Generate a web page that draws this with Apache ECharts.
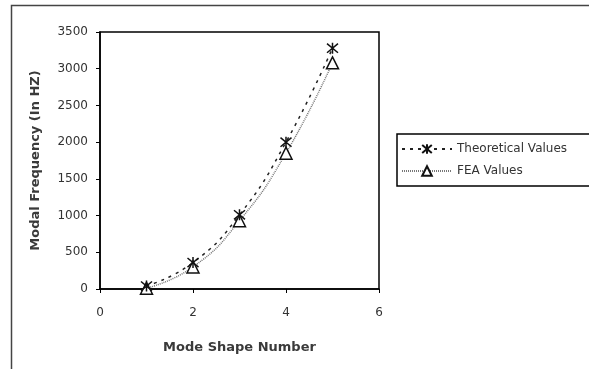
<!DOCTYPE html>
<html>
<head>
<meta charset="utf-8">
<script src="https://cdn.jsdelivr.net/npm/echarts@6/dist/echarts.min.js"></script>
<style>
  html, body { margin: 0; padding: 0; background: #fff; }
  #chart { width: 589px; height: 369px; }
</style>
</head>
<body>
<div id="chart"></div>
<script>
// Mode shape numbers and the modal frequencies (Hz) for each method
var modeNumbers = [1, 2, 3, 4, 5];
var theoreticalValues = [40, 360, 1010, 2000, 3280];
var feaValues = [10, 300, 930, 1850, 3080];
var xTicks = [0, 2, 4, 6];
var yTicks = [0, 500, 1000, 1500, 2000, 2500, 3000, 3500];

function pairs(xs, ys) {
  return xs.map(function (x, i) { return [x, ys[i]]; });
}

var starPath = 'path://M0,0L10,10M10,0L0,10M5,-1L5,11';
var font = 'DejaVu Sans, Arial, sans-serif';

var chart = echarts.init(document.getElementById('chart'), null, { renderer: 'canvas' });
chart.setOption({
  backgroundColor: '#fff',
  animation: false,
  textStyle: { fontFamily: font, color: '#333' },
  graphic: [{
    type: 'rect',
    shape: { x: 11.5, y: 5.5, width: 600, height: 400 },
    style: { fill: 'none', stroke: '#444', lineWidth: 1.5 },
    z: -1
  }],
  grid: { left: 100, top: 32, right: 210, bottom: 80, show: true, borderColor: '#000', borderWidth: 1.5, backgroundColor: 'transparent' },
  legend: {
    orient: 'vertical',
    left: 397, top: 134,
    width: 250,
    backgroundColor: '#fff',
    borderColor: '#000', borderWidth: 1.5, borderRadius: 0,
    padding: [9, 60, 9, 4],
    itemGap: 10,
    itemWidth: 50, itemHeight: 12,
    textStyle: { fontSize: 12, color: '#333', fontFamily: font },
    data: ['Theoretical Values', 'FEA Values']
  },
  xAxis: {
    type: 'value',
    min: 0, max: 6, interval: 2,
    name: 'Mode Shape Number',
    nameLocation: 'middle', nameGap: 52,
    nameTextStyle: { fontSize: 13, fontWeight: 'bold', color: '#3a3a3a', fontFamily: font },
    axisLine: { lineStyle: { color: '#000', width: 1.5 } },
    axisTick: { show: true, length: 4, lineStyle: { color: '#000' } },
    axisLabel: { fontSize: 12, color: '#333', margin: 18,
      formatter: function (v) { return xTicks.indexOf(v) >= 0 ? String(v) : ''; } },
    splitLine: { show: false }
  },
  yAxis: {
    type: 'value',
    min: 0, max: 3500, interval: 500,
    name: 'Modal Frequency (In HZ)',
    nameLocation: 'middle', nameGap: 58, nameRotate: 90,
    nameTextStyle: { fontSize: 13, fontWeight: 'bold', color: '#3a3a3a', fontFamily: font },
    axisLine: { show: true, lineStyle: { color: '#000', width: 1.5 } },
    axisTick: { show: true, length: 4, lineStyle: { color: '#000' } },
    axisLabel: { fontSize: 12, color: '#333', margin: 12,
      formatter: function (v) { return yTicks.indexOf(v) >= 0 ? String(v) : ''; } },
    splitLine: { show: false }
  },
  series: [
    {
      name: 'Theoretical Values',
      type: 'line',
      smooth: true,
      data: pairs(modeNumbers, theoreticalValues),
      symbol: starPath,
      symbolSize: 11,
      showAllSymbol: true,
      color: '#111',
      lineStyle: { color: '#222', width: 1.5, type: [3, 5] },
      itemStyle: { color: '#111', borderColor: '#111', borderWidth: 1.5 },
      z: 3
    },
    {
      name: 'FEA Values',
      type: 'line',
      smooth: true,
      data: pairs(modeNumbers, feaValues),
      symbol: 'triangle',
      symbolSize: 12,
      color: '#444',
      lineStyle: { color: '#777', width: 1.5, type: [1, 1] },
      itemStyle: { color: '#fff', borderColor: '#111', borderWidth: 1.5 },
      z: 2
    }
  ]
});
</script>
</body>
</html>
